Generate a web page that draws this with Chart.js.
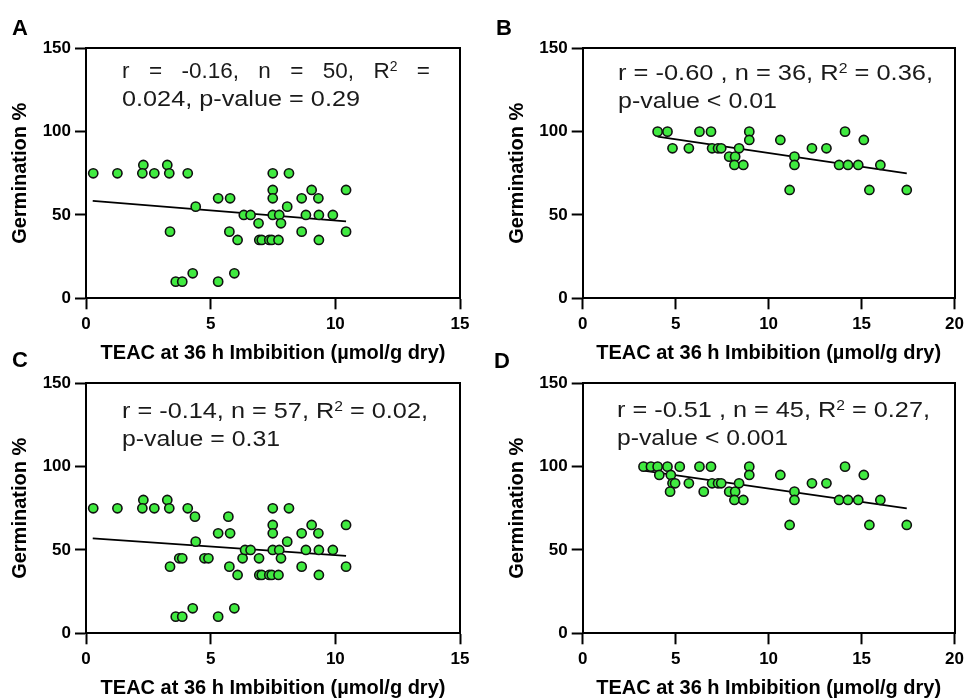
<!DOCTYPE html>
<html>
<head>
<meta charset="utf-8">
<script src="https://cdn.jsdelivr.net/npm/chart.js@4.4.1/dist/chart.umd.min.js"></script>
<style>
  body { margin: 0; background: #fff; width: 969px; height: 700px; position: relative; overflow: hidden;
         font-family: 'Liberation Sans', Arial, sans-serif; }
  canvas { position: absolute; }
  .letter { position: absolute; font-weight: bold; font-size: 22px; line-height: 22px; color: #000; }
  .note { position: absolute; font-size: 22.5px; line-height: 28px; color: #1a1a1a; white-space: nowrap;
          transform-origin: 0 50%; }
  .note sup { font-size: 0.62em; vertical-align: 0.5em; line-height: 0; }
</style>
</head>
<body>
<canvas id="chartA" width="484" height="370" style="left:0;top:0"></canvas>
<canvas id="chartB" width="485" height="370" style="left:484px;top:0"></canvas>
<canvas id="chartC" width="484" height="370" style="left:0;top:335px"></canvas>
<canvas id="chartD" width="485" height="370" style="left:484px;top:335px"></canvas>

<div class="letter" style="left:12px;top:17px">A</div>
<div class="letter" style="left:496px;top:17px">B</div>
<div class="letter" style="left:12px;top:349px">C</div>
<div class="letter" style="left:494px;top:350px">D</div>

<div class="note" data-w="308" data-fit="space" style="left:122px;top:57px">r = -0.16, n = 50, R<sup>2</sup> =</div>
<div class="note" data-w="238" style="left:122px;top:85px">0.024, p-value = 0.29</div>
<div class="note" data-w="315" style="left:618px;top:59px">r = -0.60 , n = 36, R<sup>2</sup> = 0.36,</div>
<div class="note" data-w="159" style="left:618px;top:87px">p-value &lt; 0.01</div>
<div class="note" data-w="306" style="left:122px;top:397px">r = -0.14, n = 57, R<sup>2</sup> = 0.02,</div>
<div class="note" data-w="158" style="left:122px;top:425px">p-value = 0.31</div>
<div class="note" data-w="313" style="left:617px;top:396px">r = -0.51 , n = 45, R<sup>2</sup> = 0.27,</div>
<div class="note" data-w="171" style="left:617px;top:424px">p-value &lt; 0.001</div>

<script>
// values
const xA = [0.29, 1.26, 2.3, 2.26, 2.74, 3.26, 3.34, 4.08, 4.4, 3.37, 3.6, 3.86, 4.28, 5.3, 5.95,
            5.3, 5.78, 5.75, 6.08, 6.33, 6.6, 6.92, 6.95, 7.05, 7.35, 7.45, 7.72, 7.49, 7.49, 7.49,
            7.49, 7.75, 7.82, 8.14, 8.07, 8.65, 8.65, 8.82, 9.05, 9.32, 9.34, 9.34, 9.9, 10.43, 10.43];
const yA = [75, 75, 80, 75, 75, 80, 75, 75, 55, 40, 10, 10, 15, 10, 15,
            60, 60, 40, 35, 50, 50, 45, 35, 35, 35, 35, 35, 75, 65, 60,
            50, 50, 45, 75, 55, 60, 40, 50, 65, 60, 50, 35, 50, 65, 40];
const fitXA = [0.27, 10.43];
const fitYA = [58.4, 46.2];

const xB = [4.03, 4.56, 4.83, 5.71, 6.28, 6.9, 6.96, 7.28, 7.45, 7.88, 8.2, 8.16, 8.64, 8.41, 8.96,
            8.96, 10.63, 11.13, 11.39, 11.39, 12.33, 13.11, 13.79, 14.11, 14.27, 14.82, 15.12, 15.42, 16.01, 17.43];
const yB = [100, 100, 90, 90, 100, 100, 90, 90, 90, 85, 85, 80, 80, 90, 100,
            95, 95, 65, 85, 80, 90, 90, 80, 100, 80, 80, 95, 65, 80, 65];
const fitXB = [4.03, 17.43];
const fitYB = [97, 75];

const xC = [0.29, 1.26, 2.3, 2.26, 2.74, 3.26, 3.34, 4.08, 4.37, 4.4, 3.37, 3.74, 3.86, 3.6, 3.86,
            4.28, 4.75, 4.91, 5.3, 5.71, 5.78, 5.75, 6.08, 5.3, 5.95, 6.28, 6.38, 6.6, 6.94, 6.95,
            7.05, 7.35, 7.45, 7.72, 7.49, 7.49, 7.49, 7.49, 7.75, 7.82, 8.14, 8.07, 8.65, 8.65, 8.82,
            9.05, 9.32, 9.34, 9.34, 9.9, 10.43, 10.43];
const yC = [75, 75, 80, 75, 75, 80, 75, 75, 70, 55, 40, 45, 45, 10, 10,
            15, 45, 45, 60, 70, 60, 40, 35, 10, 15, 45, 50, 50, 45, 35,
            35, 35, 35, 35, 75, 65, 60, 50, 50, 45, 75, 55, 60, 40, 50,
            65, 60, 50, 35, 50, 65, 40];
const fitXC = [0.27, 10.43];
const fitYC = [57, 46.5];

const xD = [3.27, 3.67, 4.03, 4.56, 5.22, 4.12, 4.74, 4.83, 4.97, 4.7, 5.71, 6.28, 6.9, 6.51, 6.96,
            7.28, 7.45, 7.88, 8.2, 8.16, 8.64, 8.41, 8.96, 8.96, 10.63, 11.13, 11.39, 11.39, 12.33, 13.11,
            13.79, 14.11, 14.27, 14.82, 15.12, 15.42, 16.01, 17.43];
const yD = [100, 100, 100, 100, 100, 95, 95, 90, 90, 85, 90, 100, 100, 85, 90,
            90, 90, 85, 85, 80, 80, 90, 100, 95, 95, 65, 85, 80, 90, 90,
            80, 100, 80, 80, 95, 65, 80, 65];
const fitXD = [3.27, 17.43];
const fitYD = [97.6, 75];

const yTicks = [0, 50, 100, 150];
const xTitle = 'TEAC at 36 h Imbibition (\u00b5mol/g dry)';
const yTitle = 'Germination %';

const GREEN = '#40ea40';
const FONT = "'Liberation Sans', Arial, sans-serif";

function frameAxis(position) {
    // plain axis used only to draw the top / right edge of the box
    return {
        type: 'linear',
        position: position,
        ticks: { display: false },
        grid: { drawOnChartArea: false, drawTicks: false },
        border: { display: true, color: '#000', width: 2 },
        afterFit: s => { if (position === 'top') s.height = 0; else s.width = 0; }
    };
}

function makePanel(id, xs, ys, fitX, fitY, xMax, padLeft, yWidth, padRight) {
    const points = xs.map((x, i) => ({ x: x, y: ys[i] }));
    const fitLine = fitX.map((x, i) => ({ x: x, y: fitY[i] }));
    new Chart(document.getElementById(id), {
        type: 'scatter',
        data: {
            datasets: [
                { data: points, backgroundColor: GREEN, borderColor: '#111', borderWidth: 1.6,
                  pointRadius: 4.6, order: 0 },
                { type: 'line', data: fitLine, borderColor: '#000', borderWidth: 1.7,
                  pointRadius: 0, showLine: true, fill: false, order: 1 }
            ]
        },
        options: {
            responsive: false,
            animation: false,
            devicePixelRatio: 1,
            layout: { padding: { left: padLeft, right: padRight, top: 48.3, bottom: 5 } },
            plugins: { legend: { display: false }, tooltip: { enabled: false } },
            scales: {
                x: {
                    type: 'linear', min: 0, max: xMax,
                    ticks: { stepSize: 5, padding: 5, color: '#000', font: { family: FONT, size: 17, weight: 'bold' } },
                    grid: { drawOnChartArea: false, drawTicks: true, tickLength: 11, tickWidth: 2, tickColor: '#000' },
                    border: { display: true, color: '#000', width: 2 },
                    title: { display: true, text: xTitle, color: '#000', padding: 0,
                             font: { family: FONT, size: 20, weight: 'bold' } },
                    afterFit: s => { s.height = 66.7; }
                },
                y: {
                    type: 'linear', min: 0, max: 150,
                    afterBuildTicks: s => { s.ticks = yTicks.map(v => ({ value: v })); },
                    ticks: { padding: 4, color: '#000', font: { family: FONT, size: 17, weight: 'bold' } },
                    grid: { drawOnChartArea: false, drawTicks: true, tickLength: 11, tickWidth: 2, tickColor: '#000' },
                    border: { display: true, color: '#000', width: 2 },
                    title: { display: true, text: yTitle, color: '#000', padding: 0,
                             font: { family: FONT, size: 20, weight: 'bold' } },
                    afterFit: s => { s.width = yWidth; }
                },
                x2: frameAxis('top'),
                y2: frameAxis('right')
            }
        }
    });
}

makePanel('chartA', xA, yA, fitXA, fitYA, 15, 8, 78, 24);
makePanel('chartB', xB, yB, fitXB, fitYB, 20, 21.5, 77.2, 10.7);
makePanel('chartC', xC, yC, fitXC, fitYC, 15, 8, 78, 24);
makePanel('chartD', xD, yD, fitXD, fitYD, 20, 21.5, 77.2, 10.7);

// bring each note line to the width seen in the figure:
// the first line of A is justified, the others are just wider type
document.querySelectorAll('.note').forEach(el => {
    const target = parseFloat(el.dataset.w);
    const natural = el.getBoundingClientRect().width;
    if (el.dataset.fit === 'space') {
        const spaces = (el.textContent.match(/ /g) || []).length;
        el.style.wordSpacing = ((target - natural) / spaces).toFixed(2) + 'px';
    } else {
        el.style.transform = 'scaleX(' + (target / natural).toFixed(4) + ')';
    }
});
</script>
</body>
</html>
